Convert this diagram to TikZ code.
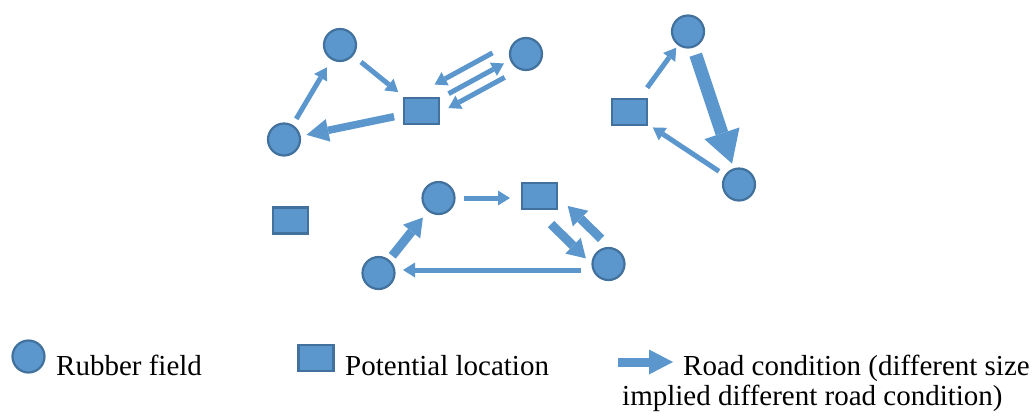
\documentclass[tikz,border=0pt]{standalone}
\usepackage{fontspec}
\setmainfont{Liberation Serif}
\usepackage{tikz}
\usetikzlibrary{arrows.meta}
\definecolor{fieldblue}{RGB}{91,151,205}
\definecolor{fieldedge}{RGB}{65,113,156}

\begin{document}
\begin{tikzpicture}[x=1pt,y=-1pt,
    field/.style={circle,draw=fieldedge,fill=fieldblue,line width=2.2pt,minimum size=32pt,inner sep=0pt,outer sep=0pt},
    site/.style={rectangle,draw=fieldedge,fill=fieldblue,line width=2.2pt,minimum width=35pt,minimum height=26pt,inner sep=0pt,outer sep=0pt},
    roadthin/.style={draw=fieldblue,line width=5pt,-{Triangle[length=12pt,width=15pt,line width=0pt]}},
    roadmid/.style={draw=fieldblue,line width=9pt,-{Triangle[length=18pt,width=22pt,line width=0pt]}},
    roadwide/.style={draw=fieldblue,line width=7.5pt,-{Triangle[length=22pt,width=23pt,line width=0pt]}},
    roadheavy/.style={draw=fieldblue,line width=13pt,-{Triangle[length=32pt,width=37pt,line width=0pt]}},
    legend/.style={anchor=base west,inner sep=0pt,font=\fontsize{29}{33}\selectfont}]
  \useasboundingbox (0,0) rectangle (1035,416);
  \foreach \n/\x/\y in {f1/340/45,f2/284/139.5,f3/526/54,f4/688/31.5,f5/739/184.5,
      f6/438.5/198,f7/378.5/273,f8/608.5/264}
    \node[field] (\n) at (\x,\y) {};
  \foreach \n/\x/\y in {s1/421.5/111,s2/629.5/112,s3/290.5/220.5,s4/539.5/196}
    \node[site] (\n) at (\x,\y) {};
  % left group
  \draw[roadthin,shorten <=24pt,shorten >=26pt] (f2.center) -- (f1.center);
  \draw[roadthin,shorten <=27pt,shorten >=30pt] (f1.center) -- (s1.center);
  \draw[roadwide,shorten <=28pt,shorten >=23pt] (s1.center) -- (f2.center);
  \draw[roadthin,shorten <=29pt,shorten >=24pt] ([shift={(-8,-15)}]f3.center) -- ([shift={(-8,-15)}]s1.center);
  \draw[roadthin,shorten <=32pt,shorten >=24pt] ([shift={(-1,-2)}]s1.center) -- ([shift={(-1,-2)}]f3.center);
  \draw[roadthin,shorten <=30pt,shorten >=25pt] ([shift={(5,9)}]f3.center) -- ([shift={(5,9)}]s1.center);
  % right group
  \draw[roadthin,shorten <=30pt,shorten >=20pt] (s2.center) -- (f4.center);
  \draw[roadheavy,shorten <=24.5pt,shorten >=22pt] (f4.center) -- (f5.center);
  \draw[roadthin,shorten <=24pt,shorten >=28pt] (f5.center) -- (s2.center);
  % bottom group
  \draw[roadthin,shorten <=25.5pt,shorten >=29.5pt] (f6.center) -- ([shift={(0,2)}]s4.center);
  \draw[roadmid,shorten <=22pt,shorten >=25pt] (f7.center) -- (f6.center);
  \draw[roadmid,shorten <=28pt,shorten >=20pt] ([shift={(-8.4,8.4)}]s4.center) -- ([shift={(-8.4,8.4)}]f8.center);
  \draw[roadmid,shorten <=23pt,shorten >=27pt] ([shift={(9,-9)}]f8.center) -- ([shift={(9,-9)}]s4.center);
  \draw[roadthin,shorten <=27.5pt,shorten >=24.5pt] ([shift={(0,6)}]f8.center) -- ([shift={(0,-3)}]f7.center);
  % legend
  \node[field] (kf) at (28.5,356.5) {};
  \node[legend] (kft) at (56,375) {Rubber field};
  \node[site] (ks) at (316,358) {};
  \node[legend] (kst) at (345,375) {Potential location};
  \coordinate (ka) at (618,362);
  \coordinate (kb) at (673,362);
  \draw[roadmid,-{Triangle[length=24pt,width=25pt,line width=0pt]}] (ka) -- (kb);
  \node[legend] (kat) at (683,375) {Road condition (different size};
  \node[legend] (kbt) at (622,405) {implied different road condition)};
\end{tikzpicture}
\end{document}
